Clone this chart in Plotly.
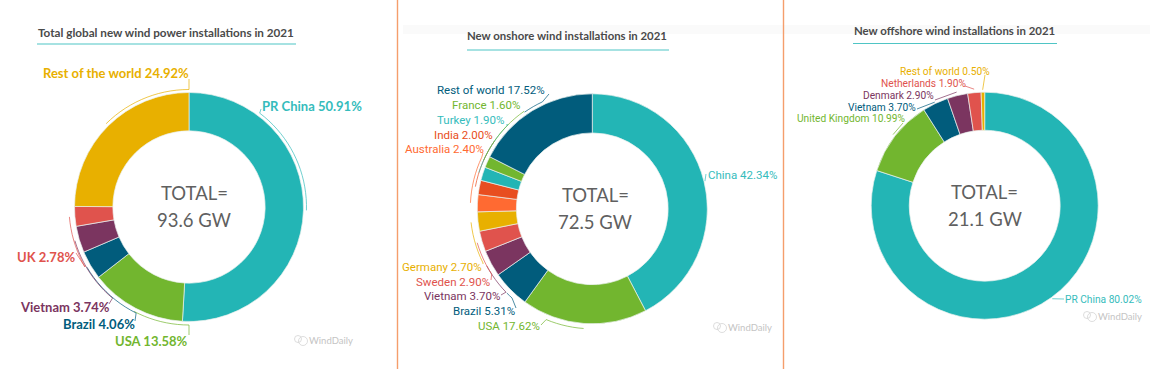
import math
import plotly.graph_objects as go

W, H = 1150, 369

TEAL, GREEN, NAVY, PLUM, RED, YELLOW, ORANGE, DEEP = (
    "#23b5b5", "#72b62f", "#015c7c", "#7b3560", "#e0534d", "#e8b000", "#ff6a32", "#e84e20")
LABEL_TEAL = "#35bcbc"

# ---- data ----
total_labels = ["PR China", "USA", "Brazil", "Vietnam", "UK", "Rest of the world"]
total_values = [50.91, 13.58, 4.06, 3.74, 2.78, 24.92]
total_colors = [TEAL, GREEN, NAVY, PLUM, RED, YELLOW]

onshore_labels = ["China", "USA", "Brazil", "Vietnam", "Sweden", "Germany", "Australia",
                  "India", "Turkey", "France", "Rest of world"]
onshore_values = [42.34, 17.62, 5.31, 3.70, 2.90, 2.70, 2.40, 2.00, 1.90, 1.60, 17.52]
onshore_colors = [TEAL, GREEN, NAVY, PLUM, RED, YELLOW, ORANGE, DEEP, TEAL, GREEN, NAVY]

offshore_labels = ["PR China", "United Kingdom", "Vietnam", "Denmark", "Netherlands", "Rest of world"]
offshore_values = [80.02, 10.99, 3.70, 2.90, 1.90, 0.50]
offshore_colors = [TEAL, GREEN, NAVY, PLUM, RED, YELLOW]

# ---- layout: per slice (text anchor x, y, side), leader (start angle, arc end angle, arc radius, end point)
panels = [
    dict(title="Total global new wind power installations in 2021", labels=total_labels, values=total_values,
         colors=total_colors, cx=189, cy=207, r=114.5, hole=0.665, total="93.6 GW", tbold=True, tsize=11.7,
         lfont="Lato", lsize=13, ty=32, tx0=38, ux0=37, ux1=296, uy=44, mark=(309, 340), cdx=5,
         text=[(262, 106, "left"), (188, 341, "right"), (135, 324, "right"), (110, 307, "right"),
               (75, 257, "right"), (189, 73, "right")],
         lead=[(None, 37, 117.5, (261, 109)), (None, 180, 118, (189, 335)), (None, 206.5, 118.5, (135, 321)),
               (None, 220, 119, (109, 304)), (None, 240, 120, (76, 253)), (None, 360, 117.5, (189, 79))]),
    dict(title="New onshore wind installations in 2021", labels=onshore_labels, values=onshore_values,
         colors=onshore_colors, cx=592.3, cy=208.8, r=115, hole=0.66, total="72.5 GW", tbold=False, tsize=11.4,
         lfont="Roboto", lsize=11.5, ty=36, tx0=467, ux0=467, ux1=669, uy=50, mark=(728, 327), cdx=3,
         text=[(708, 175, "left"), (540, 326, "right"), (515, 311, "right"), (500, 296, "right"),
               (490, 282, "right"), (482, 267, "right"), (484, 149, "right"), (493, 135, "right"),
               (504, 120, "right"), (520, 105, "right"), (545, 90, "right")],
         lead=[(None, 76.2, 116, (706, 174)), (None, 202.6, 120, (541, 325)), (None, 222, 120, (516, 308)),
               (None, 226, 120, (501, 295)), (None, 237, 120, (491, 280)), (None, 243.6, 122, (483, 264)),
               (None, 295, 122, (483, 153)), (None, 304.5, 119, (494, 141)), (None, 315, 119, (506, 125)),
               (None, 325, 119, (524, 111)), (325, 335, 118, (549, 94))]),
    dict(title="New offshore wind installations in 2021", labels=offshore_labels, values=offshore_values,
         colors=offshore_colors, cx=984.7, cy=205.7, r=113.5, hole=0.665, total="21.1 GW", tbold=False, tsize=11.4,
         lfont="Roboto", lsize=10.2, ty=30, tx0=854, ux0=853, ux1=1057, uy=43.5, mark=(1098, 316), cdx=0,
         text=[(1065, 299, "left"), (906, 119, "right"), (916, 107, "right"), (934, 95.5, "right"),
               (967, 83.7, "right"), (990, 72, "right")],
         lead=[(None, 144, 115, (1064, 299)), (None, 307.9, 116, (903, 123)), (None, 334, 115, (917, 109)),
               (None, 346, 117, (935, 100)), (None, 354.8, 117, (965, 86)), (None, 359, 116, (985, 75))]),
]


def px(x):
    return x / W


def py(y):
    return 1 - y / H


def pol(cx, cy, r, a):
    t = math.radians(a)
    return cx + r * math.sin(t), cy - r * math.cos(t)


fig = go.Figure()
shapes, ann = [], []


def line(x0, y0, x1, y1, color, width):
    shapes.append(dict(type="line", xref="paper", yref="paper", x0=px(x0), y0=py(y0), x1=px(x1), y1=py(y1),
                       line=dict(color=color, width=width), layer="above"))


def note(x, y, text, anchor, family, size, color):
    ann.append(dict(x=px(x), y=py(y), xref="paper", yref="paper", xanchor=anchor, yanchor="middle",
                    text=text, showarrow=False, borderpad=0, borderwidth=0,
                    font=dict(family=family, size=size, color=color)))


# separators and faint top band
shapes.append(dict(type="rect", xref="paper", yref="paper", x0=px(403), x1=px(1150), y0=py(25), y1=py(34),
                   fillcolor="#fafafa", line=dict(width=0), layer="below"))
line(397.5, 0, 397.5, H, "#f59e6c", 1.4)
line(783.5, 0, 783.5, H, "#f59e6c", 1.4)

for p in panels:
    fig.add_trace(go.Pie(
        labels=p["labels"], values=p["values"], sort=False, direction="clockwise", rotation=0,
        hole=p["hole"], textinfo="none", showlegend=False,
        marker=dict(colors=p["colors"], line=dict(color="#e9f1ee", width=0.7)),
        domain=dict(x=[px(p["cx"] - p["r"]), px(p["cx"] + p["r"])],
                    y=[py(p["cy"] + p["r"]), py(p["cy"] - p["r"])])))

    # title + rule
    note(p["tx0"], p["ty"], f"<b>{p['title']}</b>", "left", "Lato", p["tsize"], "#4a4a4a")
    line(p["ux0"], p["uy"], p["ux1"], p["uy"], "#4fc5c5", 1.2)

    # centre text
    for txt, dy in (("TOTAL=", -14), (p["total"], 13)):
        note(p["cx"] + p["cdx"], p["cy"] + dy, txt, "center", "Lato", 18.5, "#606060")

    # labels and leaders
    total = sum(p["values"])
    cum = 0
    for name, v, col, (tx, ty, side), (a0, a1, rr, end) in zip(p["labels"], p["values"], p["colors"], p["text"], p["lead"]):
        mid = (cum + v / 2) / total * 360
        cum += v
        start = mid if a0 is None else a0
        lab_col = LABEL_TEAL if col == TEAL else col
        body = f"{name} {v:.2f}%"
        note(tx, ty, f"<b>{body}</b>" if p["tbold"] else body, side, p["lfont"], p["lsize"], lab_col)
        n = max(2, int(abs(a1 - start) / 3) + 2)
        pts = [pol(p["cx"], p["cy"], rr, start + (a1 - start) * i / (n - 1)) for i in range(n)]
        pts.append(end)
        d = "M " + " L ".join(f"{px(x):.5f},{py(y):.5f}" for x, y in pts)
        shapes.append(dict(type="path", xref="paper", yref="paper", path=d, layer="above",
                           line=dict(color=lab_col, width=0.7)))

    # watermark
    mx, my = p["mark"]
    note(mx, my, "WindDaily", "left", "Lato", 9.5, "#c4c4c4")
    for ox, oy, s in ((-11, -1, 3.5), (-6, 1, 4.5)):
        shapes.append(dict(type="circle", xref="paper", yref="paper", x0=px(mx + ox - s), x1=px(mx + ox + s),
                           y0=py(my + oy + s), y1=py(my + oy - s), line=dict(color="#d4d4d4", width=0.8)))

fig.update_layout(width=W, height=H, margin=dict(l=0, r=0, t=0, b=0), paper_bgcolor="white",
                  shapes=shapes, annotations=ann)
fig.write_html("out.html", config=dict(displayModeBar=False),
               post_script="document.body.style.margin='0';document.documentElement.style.overflow='hidden';")
